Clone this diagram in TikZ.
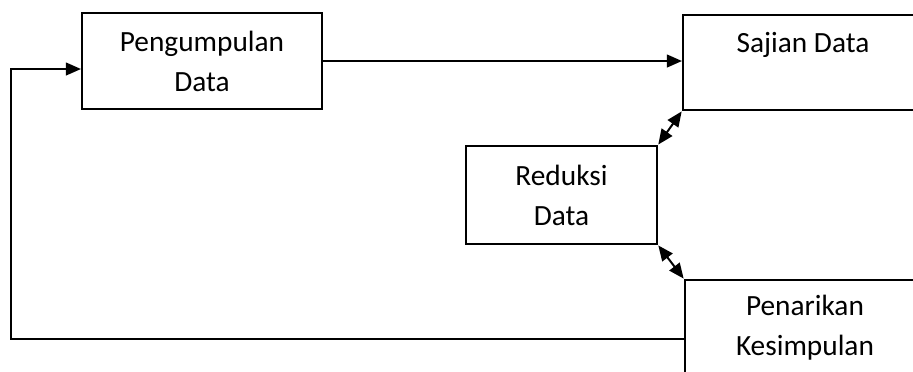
\documentclass[tikz,border=0pt]{standalone}
\usepackage{fontspec}
\setmainfont{Carlito}
\usepackage{tikz}
\usetikzlibrary{arrows.meta, positioning}
\tikzstyle{stagebox}=[shape=rectangle,draw=black,line width=0.75pt,align=center,font=\fontsize{11}{15}\selectfont]
\tikzstyle{mainedge}=[-{Triangle[length=5.7pt,width=4.8pt]},line width=0.75pt]
\tikzstyle{bothedge}=[{Triangle[length=5.7pt,width=4.8pt]}-{Triangle[length=5.7pt,width=4.8pt]},line width=0.75pt,shorten <=0.2pt,shorten >=0.2pt]

\begin{document}
\begin{tikzpicture}[x=0.375pt,y=-0.375pt]
\useasboundingbox (0,0) rectangle (913,371);
\clip (0,0) rectangle (913,371);
% the four stages
\node[stagebox,minimum width=90pt,minimum height=36pt] (peng) at (202,61) {Pengumpulan\\Data};
\node[stagebox,minimum width=90pt,minimum height=35.6pt,anchor=west] (sajian) at (682,62.5) {Sajian Data\\~};
\node[stagebox,minimum width=71.6pt,minimum height=36.75pt] (reduksi) at (561.5,195) {Reduksi\\Data};
\node[stagebox,minimum width=90pt,minimum height=36pt] (penarikan) at (805,328) {Penarikan\\Kesimpulan};
% connections
\draw[mainedge] (peng.east) -- (sajian.west |- peng.east);
\draw[bothedge] (reduksi.north east) -- (sajian.south west);
\draw[bothedge] (reduksi.south east) -- (penarikan.north west);
% loop back to the start
\coordinate (corner) at (11,339);
\coordinate (turn) at (11,69);
\draw[mainedge] (penarikan.west |- corner) -- (corner) -- (turn) -- (peng.west |- turn);
\end{tikzpicture}
\end{document}
